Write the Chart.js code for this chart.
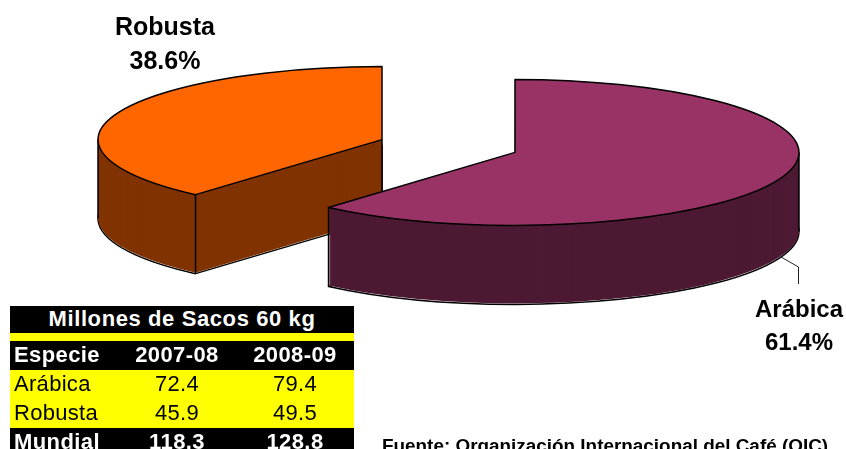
<!DOCTYPE html>
<html lang="es">
<head>
<meta charset="utf-8">
<title>Café: Arábica y Robusta</title>
<script src="https://cdn.jsdelivr.net/npm/chart.js@4"></script>
<style>
html,body{margin:0;padding:0;width:846px;height:449px;overflow:hidden;background:#fff;font-family:"Liberation Sans",Arial,sans-serif}
#chart{position:absolute;left:0;top:0}
#tabla{position:absolute;left:10px;top:306px;width:344px;border-collapse:collapse;table-layout:fixed;font-size:22px;line-height:25px;color:#000}
#tabla td{padding:0 0 2px 0;text-align:center;white-space:nowrap;overflow:hidden}
#tabla td:first-child{text-align:left;padding-left:4px}
#tabla tr{height:29px;background:#ff0;letter-spacing:.3px}
#tabla tr.neg{background:#000;color:#fff;font-weight:bold;letter-spacing:.4px}
#tabla tr.tit{height:27px;letter-spacing:.6px}
#tabla tr.tit td{text-align:center;padding:0 0 2px 0}
#tabla tr.sep{height:8px}
#tabla tr.sep td{font-size:0;line-height:0;padding:0}
#fuente{position:absolute;left:382px;top:436px;font-size:18.9px;line-height:19px;font-weight:bold;color:#000;white-space:nowrap}
</style>
</head>
<body>
<canvas id="chart" width="846" height="449"></canvas>
<table id="tabla"></table>
<div id="fuente"></div>
<script>
const categories = ["Arábica", "Robusta"];
const shares = [61.4, 38.6];
const topColors = ["#993366", "#FF6600"];
const sideColors = ["#4D1933", "#803300"];

const tableTitle = "Millones de Sacos 60 kg";
const tableHeader = ["Especie", "2007-08", "2008-09"];
const tableRows = [["Arábica", "72.4", "79.4"], ["Robusta", "45.9", "49.5"]];
const tableTotal = ["Mundial", "118.3", "128.8"];
const sourceNote = "Fuente: Organización Internacional del Café (OIC)";

const squash = 0.257;
const wallDepth = 79;
const explode = 71;
const labelFontA = 'bold 24px "Liberation Sans", Arial, sans-serif';
const labelFontR = 'bold 25px "Liberation Sans", Arial, sans-serif';

function applyView(ctx, el, dx, dy, d) {
  ctx.translate(dx, el.y + dy + d);
  ctx.scale(1, squash);
  ctx.translate(0, -el.y);
}
function traceSector(ctx, el, dx, dy, d) {
  ctx.save();
  applyView(ctx, el, dx, dy, d);
  ctx.beginPath();
  ctx.moveTo(el.x, el.y);
  ctx.arc(el.x, el.y, el.outerRadius, el.startAngle, el.endAngle);
  ctx.closePath();
  ctx.restore();
}
function inSweep(a, s, e) {
  const t = Math.PI * 2;
  let v = a;
  while (v < s) v += t;
  return v <= e;
}

const pie3d = {
  id: "pie3d",
  beforeDatasetDraw(chart, args) {
    const ctx = chart.ctx;
    const arcs = args.meta.data;
    for (let i = arcs.length - 1; i >= 0; i--) {
      const el = arcs[i];
      const mid = (el.startAngle + el.endAngle) / 2;
      const dx = Math.cos(mid) * explode;
      const dy = Math.sin(mid) * explode * squash;
      const cx = el.x + dx, cy = el.y + dy;
      const r = el.outerRadius;

      ctx.lineWidth = 1.5;
      ctx.strokeStyle = "#000";
      ctx.lineJoin = "round";
      traceSector(ctx, el, dx, dy, wallDepth);
      ctx.stroke();

      const own = el.options;
      el.options = Object.assign({}, own, { backgroundColor: sideColors[i], borderWidth: 0 });
      for (let d = wallDepth - 1; d >= 1; d--) {
        ctx.save();
        applyView(ctx, el, dx, dy, d);
        el.draw(ctx);
        ctx.restore();
      }
      el.options = own;

      const edges = [];
      for (const a of [0, Math.PI, el.endAngle, el.startAngle]) {
        if (inSweep(a, el.startAngle, el.endAngle) && Math.sin(a) >= -1e-6) {
          edges.push([cx + Math.cos(a) * r, cy + Math.sin(a) * r * squash]);
        }
      }
      if (el.endAngle - el.startAngle < Math.PI) edges.push([cx, cy]);
      ctx.beginPath();
      for (const p of edges) {
        ctx.moveTo(p[0], p[1]);
        ctx.lineTo(p[0], p[1] + wallDepth);
      }
      ctx.stroke();

      ctx.save();
      applyView(ctx, el, dx, dy, 0);
      el.draw(ctx);
      ctx.restore();
      traceSector(ctx, el, dx, dy, 0);
      ctx.stroke();
    }
    return false;
  },
  afterDatasetsDraw(chart) {
    const ctx = chart.ctx;
    ctx.save();
    ctx.strokeStyle = "#222";
    ctx.lineWidth = 1;
    ctx.beginPath();
    ctx.moveTo(781, 257);
    ctx.lineTo(798.5, 267);
    ctx.lineTo(798.5, 284);
    ctx.stroke();
    ctx.fillStyle = "#000";
    ctx.textAlign = "center";
    ctx.textBaseline = "alphabetic";
    ctx.font = labelFontR;
    ctx.fillText(categories[1], 165, 35);
    ctx.fillText(shares[1].toFixed(1) + "%", 165, 69);
    ctx.font = labelFontA;
    ctx.fillText(categories[0], 799, 317);
    ctx.fillText(shares[0].toFixed(1) + "%", 799, 350);
    ctx.restore();
  }
};

new Chart(document.getElementById("chart"), {
  type: "pie",
  data: {
    labels: categories,
    datasets: [{ data: shares, backgroundColor: topColors, borderWidth: 0 }]
  },
  options: {
    responsive: false,
    animation: false,
    radius: 284,
    rotation: 0,
    layout: { padding: { left: 51, right: 0, top: 0, bottom: 157 } },
    plugins: { legend: { display: false }, tooltip: { enabled: false } }
  },
  plugins: [pie3d]
});

function addRow(cells, cls) {
  const tr = document.createElement("tr");
  if (cls) tr.className = cls;
  for (const c of cells) {
    const td = document.createElement("td");
    td.textContent = c;
    tr.appendChild(td);
  }
  document.getElementById("tabla").appendChild(tr);
  return tr;
}
const colGroup = document.createElement("colgroup");
for (const w of [108, 118, 118]) {
  const col = document.createElement("col");
  col.style.width = w + "px";
  colGroup.appendChild(col);
}
document.getElementById("tabla").appendChild(colGroup);
addRow([tableTitle], "neg tit").firstChild.colSpan = 3;
addRow([""], "sep").firstChild.colSpan = 3;
addRow(tableHeader, "neg");
tableRows.forEach(r => addRow(r));
addRow(tableTotal, "neg");
document.getElementById("fuente").textContent = sourceNote;
</script>
</body>
</html>
